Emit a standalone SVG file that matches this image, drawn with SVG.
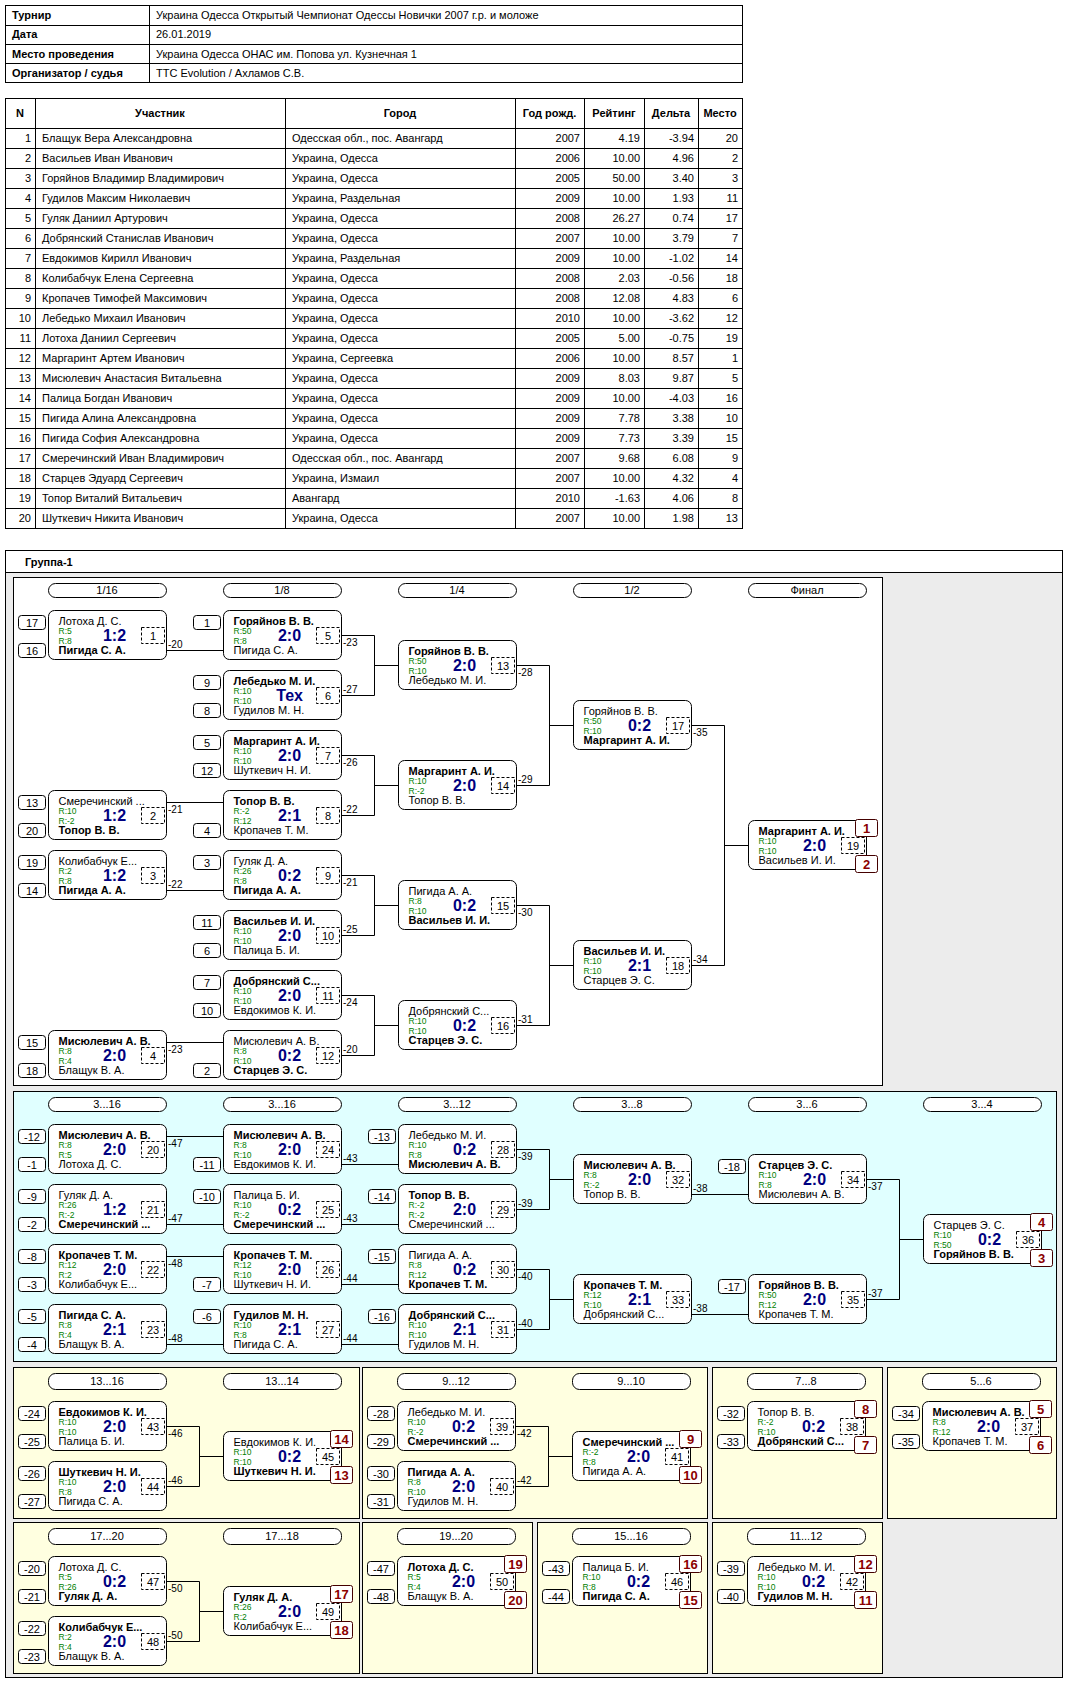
<svg xmlns="http://www.w3.org/2000/svg" width="1070" height="1685" viewBox="0 0 1070 1685">
<style>
text{font-family:"Liberation Sans",Arial,sans-serif;font-size:11px;fill:#000}
.b{font-weight:bold}
.e{text-anchor:end}
.m{text-anchor:middle}
.tl{fill:none;stroke:#000;stroke-width:1}
.mb{fill:#fff;stroke:#000;rx:6px}
.db{fill:none;stroke:#000;stroke-dasharray:3,2}
.sd{fill:#fff;stroke:#000;rx:3px}
.pl{fill:#fff;stroke:#400;rx:2px}
.pt{font-size:13px;font-weight:bold;fill:#8b0000;text-anchor:middle}
.r{font-size:8.5px;fill:#008000}
.s{font-size:16px;font-weight:bold;fill:#000080;text-anchor:middle}
.sn,.dn{text-anchor:middle}
.lb{font-size:10px}
.hd{fill:#fff;stroke:#000;rx:7px}
.c{fill:none;stroke:#000;stroke-width:1}
.y{text-anchor:end}
</style>
<rect width="1070" height="1685" fill="#fff"/>
<g id="info">
<rect class="tl" x="5.5" y="5.5" width="737" height="77"/>
<path class="tl" d="M149.5,5V82M5,25.5H742M5,44.5H742M5,63.5H742"/>
<text class="b" x="12" y="19">Турнир</text><text x="156" y="19">Украина Одесса Открытый Чемпионат Одессы Новички 2007 г.р. и моложе</text>
<text class="b" x="12" y="38">Дата</text><text x="156" y="38">26.01.2019</text>
<text class="b" x="12" y="58">Место проведения</text><text x="156" y="58">Украина Одесса ОНАС им. Попова ул. Кузнечная 1</text>
<text class="b" x="12" y="77">Организатор / судья</text><text x="156" y="77">TTC Evolution / Ахламов С.В.</text>
</g>
<g id="players">
<rect class="tl" x="5.5" y="98.5" width="737" height="430"/>
<path class="tl" d="M35.5,98V528M285.5,98V528M515.5,98V528M584.5,98V528M644.5,98V528M698.5,98V528M5,128.5H742M5,148.5H742M5,168.5H742M5,188.5H742M5,208.5H742M5,228.5H742M5,248.5H742M5,268.5H742M5,288.5H742M5,308.5H742M5,328.5H742M5,348.5H742M5,368.5H742M5,388.5H742M5,408.5H742M5,428.5H742M5,448.5H742M5,468.5H742M5,488.5H742M5,508.5H742"/>
<text class="m b" x="20" y="117">N</text><text class="m b" x="160" y="117">Участник</text><text class="m b" x="400" y="117">Город</text><text class="m b" x="549.5" y="117">Год рожд.</text><text class="m b" x="614" y="117">Рейтинг</text><text class="m b" x="671" y="117">Дельта</text><text class="m b" x="720" y="117">Место</text>
<g id="rows">
<text class="e" x="31" y="142">1</text><text x="42" y="142">Блащук Вера Александровна</text><text x="292" y="142">Одесская обл., пос. Авангард</text><text class="e" x="580" y="142">2007</text><text class="e" x="640" y="142">4.19</text><text class="e" x="694" y="142">-3.94</text><text class="e" x="738" y="142">20</text>
<text class="e" x="31" y="162">2</text><text x="42" y="162">Васильев Иван Иванович</text><text x="292" y="162">Украина, Одесса</text><text class="e" x="580" y="162">2006</text><text class="e" x="640" y="162">10.00</text><text class="e" x="694" y="162">4.96</text><text class="e" x="738" y="162">2</text>
<text class="e" x="31" y="182">3</text><text x="42" y="182">Горяйнов Владимир Владимирович</text><text x="292" y="182">Украина, Одесса</text><text class="e" x="580" y="182">2005</text><text class="e" x="640" y="182">50.00</text><text class="e" x="694" y="182">3.40</text><text class="e" x="738" y="182">3</text>
<text class="e" x="31" y="202">4</text><text x="42" y="202">Гудилов Максим Николаевич</text><text x="292" y="202">Украина, Раздельная</text><text class="e" x="580" y="202">2009</text><text class="e" x="640" y="202">10.00</text><text class="e" x="694" y="202">1.93</text><text class="e" x="738" y="202">11</text>
<text class="e" x="31" y="222">5</text><text x="42" y="222">Гуляк Даниил Артурович</text><text x="292" y="222">Украина, Одесса</text><text class="e" x="580" y="222">2008</text><text class="e" x="640" y="222">26.27</text><text class="e" x="694" y="222">0.74</text><text class="e" x="738" y="222">17</text>
<text class="e" x="31" y="242">6</text><text x="42" y="242">Добрянский Станислав Иванович</text><text x="292" y="242">Украина, Одесса</text><text class="e" x="580" y="242">2007</text><text class="e" x="640" y="242">10.00</text><text class="e" x="694" y="242">3.79</text><text class="e" x="738" y="242">7</text>
<text class="e" x="31" y="262">7</text><text x="42" y="262">Евдокимов Кирилл Иванович</text><text x="292" y="262">Украина, Раздельная</text><text class="e" x="580" y="262">2009</text><text class="e" x="640" y="262">10.00</text><text class="e" x="694" y="262">-1.02</text><text class="e" x="738" y="262">14</text>
<text class="e" x="31" y="282">8</text><text x="42" y="282">Колибабчук Елена Сергеевна</text><text x="292" y="282">Украина, Одесса</text><text class="e" x="580" y="282">2008</text><text class="e" x="640" y="282">2.03</text><text class="e" x="694" y="282">-0.56</text><text class="e" x="738" y="282">18</text>
<text class="e" x="31" y="302">9</text><text x="42" y="302">Кропачев Тимофей Максимович</text><text x="292" y="302">Украина, Одесса</text><text class="e" x="580" y="302">2008</text><text class="e" x="640" y="302">12.08</text><text class="e" x="694" y="302">4.83</text><text class="e" x="738" y="302">6</text>
<text class="e" x="31" y="322">10</text><text x="42" y="322">Лебедько Михаил Иванович</text><text x="292" y="322">Украина, Одесса</text><text class="e" x="580" y="322">2010</text><text class="e" x="640" y="322">10.00</text><text class="e" x="694" y="322">-3.62</text><text class="e" x="738" y="322">12</text>
<text class="e" x="31" y="342">11</text><text x="42" y="342">Лотоха Даниил Сергеевич</text><text x="292" y="342">Украина, Одесса</text><text class="e" x="580" y="342">2005</text><text class="e" x="640" y="342">5.00</text><text class="e" x="694" y="342">-0.75</text><text class="e" x="738" y="342">19</text>
<text class="e" x="31" y="362">12</text><text x="42" y="362">Маргаринт Артем Иванович</text><text x="292" y="362">Украина, Сергеевка</text><text class="e" x="580" y="362">2006</text><text class="e" x="640" y="362">10.00</text><text class="e" x="694" y="362">8.57</text><text class="e" x="738" y="362">1</text>
<text class="e" x="31" y="382">13</text><text x="42" y="382">Мисюлевич Анастасия Витальевна</text><text x="292" y="382">Украина, Одесса</text><text class="e" x="580" y="382">2009</text><text class="e" x="640" y="382">8.03</text><text class="e" x="694" y="382">9.87</text><text class="e" x="738" y="382">5</text>
<text class="e" x="31" y="402">14</text><text x="42" y="402">Палица Богдан Иванович</text><text x="292" y="402">Украина, Одесса</text><text class="e" x="580" y="402">2009</text><text class="e" x="640" y="402">10.00</text><text class="e" x="694" y="402">-4.03</text><text class="e" x="738" y="402">16</text>
<text class="e" x="31" y="422">15</text><text x="42" y="422">Пигида Алина Александровна</text><text x="292" y="422">Украина, Одесса</text><text class="e" x="580" y="422">2009</text><text class="e" x="640" y="422">7.78</text><text class="e" x="694" y="422">3.38</text><text class="e" x="738" y="422">10</text>
<text class="e" x="31" y="442">16</text><text x="42" y="442">Пигида София Александровна</text><text x="292" y="442">Украина, Одесса</text><text class="e" x="580" y="442">2009</text><text class="e" x="640" y="442">7.73</text><text class="e" x="694" y="442">3.39</text><text class="e" x="738" y="442">15</text>
<text class="e" x="31" y="462">17</text><text x="42" y="462">Смеречинский Иван Владимирович</text><text x="292" y="462">Одесская обл., пос. Авангард</text><text class="e" x="580" y="462">2007</text><text class="e" x="640" y="462">9.68</text><text class="e" x="694" y="462">6.08</text><text class="e" x="738" y="462">9</text>
<text class="e" x="31" y="482">18</text><text x="42" y="482">Старцев Эдуард Сергеевич</text><text x="292" y="482">Украина, Измаил</text><text class="e" x="580" y="482">2007</text><text class="e" x="640" y="482">10.00</text><text class="e" x="694" y="482">4.32</text><text class="e" x="738" y="482">4</text>
<text class="e" x="31" y="502">19</text><text x="42" y="502">Топор Виталий Витальевич</text><text x="292" y="502">Авангард</text><text class="e" x="580" y="502">2010</text><text class="e" x="640" y="502">-1.63</text><text class="e" x="694" y="502">4.06</text><text class="e" x="738" y="502">8</text>
<text class="e" x="31" y="522">20</text><text x="42" y="522">Шуткевич Никита Иванович</text><text x="292" y="522">Украина, Одесса</text><text class="e" x="580" y="522">2007</text><text class="e" x="640" y="522">10.00</text><text class="e" x="694" y="522">1.98</text><text class="e" x="738" y="522">13</text>
</g>
</g>
<g id="group">
<rect x="5.5" y="550.5" width="1057" height="1127" fill="#ececec" stroke="#000"/>
<rect x="5.5" y="550.5" width="1057" height="22" fill="#fff" stroke="#000"/>
<text class="b" x="25" y="566">Группа-1</text>
<rect x="13.5" y="577.5" width="869" height="508" fill="#fff" stroke="#000"/>
<rect x="13.5" y="1091.5" width="1043" height="270" fill="#e0ffff" stroke="#000"/>
<g fill="#ffffe0" stroke="#000">
<rect x="13.5" y="1367.5" width="346" height="151"/><rect x="362.5" y="1367.5" width="345" height="151"/><rect x="712.5" y="1367.5" width="170" height="151"/><rect x="887.5" y="1367.5" width="169" height="151"/>
<rect x="13.5" y="1522.5" width="346" height="151"/><rect x="362.5" y="1522.5" width="170" height="151"/><rect x="537.5" y="1522.5" width="170" height="151"/><rect x="712.5" y="1522.5" width="170" height="151"/>
</g>
</g>
<g id="headers">
<rect class="hd" x="48.5" y="583.5" width="118" height="14"/><text class="m" x="107" y="594">1/16</text>
<rect class="hd" x="223.5" y="583.5" width="118" height="14"/><text class="m" x="282" y="594">1/8</text>
<rect class="hd" x="398.5" y="583.5" width="118" height="14"/><text class="m" x="457" y="594">1/4</text>
<rect class="hd" x="573.5" y="583.5" width="118" height="14"/><text class="m" x="632" y="594">1/2</text>
<rect class="hd" x="748.5" y="583.5" width="118" height="14"/><text class="m" x="807" y="594">Финал</text>
<rect class="hd" x="48.5" y="1097.5" width="118" height="14"/><text class="m" x="107" y="1108">3...16</text>
<rect class="hd" x="223.5" y="1097.5" width="118" height="14"/><text class="m" x="282" y="1108">3...16</text>
<rect class="hd" x="398.5" y="1097.5" width="118" height="14"/><text class="m" x="457" y="1108">3...12</text>
<rect class="hd" x="573.5" y="1097.5" width="118" height="14"/><text class="m" x="632" y="1108">3...8</text>
<rect class="hd" x="748.5" y="1097.5" width="118" height="14"/><text class="m" x="807" y="1108">3...6</text>
<rect class="hd" x="923.5" y="1097.5" width="118" height="14"/><text class="m" x="982" y="1108">3...4</text>
<rect class="hd" x="48.5" y="1373.5" width="118" height="16"/><text class="m" x="107" y="1385">13...16</text>
<rect class="hd" x="223.5" y="1373.5" width="118" height="16"/><text class="m" x="282" y="1385">13...14</text>
<rect class="hd" x="397.5" y="1373.5" width="118" height="16"/><text class="m" x="456" y="1385">9...12</text>
<rect class="hd" x="572.5" y="1373.5" width="118" height="16"/><text class="m" x="631" y="1385">9...10</text>
<rect class="hd" x="747.5" y="1373.5" width="118" height="16"/><text class="m" x="806" y="1385">7...8</text>
<rect class="hd" x="922.5" y="1373.5" width="118" height="16"/><text class="m" x="981" y="1385">5...6</text>
<rect class="hd" x="48.5" y="1528.5" width="118" height="16"/><text class="m" x="107" y="1540">17...20</text>
<rect class="hd" x="223.5" y="1528.5" width="118" height="16"/><text class="m" x="282" y="1540">17...18</text>
<rect class="hd" x="397.5" y="1528.5" width="118" height="16"/><text class="m" x="456" y="1540">19...20</text>
<rect class="hd" x="572.5" y="1528.5" width="118" height="16"/><text class="m" x="631" y="1540">15...16</text>
<rect class="hd" x="747.5" y="1528.5" width="118" height="16"/><text class="m" x="806" y="1540">11...12</text>
</g>
<g id="connectors">
<path class="c" d="M166,650.5H223M166,802.5H223M166,890.5H223M166,1042.5H223
M341,635.5H374.5V695.5H341M374,665.5H398M341,755.5H374.5V815.5H341M374,785.5H398M341,875.5H374.5V935.5H341M374,905.5H398M341,995.5H374.5V1055.5H341M374,1025.5H398
M516,665.5H549.5V785.5H516M549,725.5H573M516,905.5H549.5V1025.5H516M549,965.5H573
M691,725.5H724.5V965.5H691M724,845.5H748
M166,1136.5H223M166,1224.5H223M166,1256.5H223M166,1344.5H223
M341,1164.5H398M341,1224.5H398M341,1284.5H398M341,1344.5H398
M516,1149.5H549.5V1209.5H516M549,1179.5H573M516,1269.5H549.5V1329.5H516M549,1299.5H573
M691,1194.5H748M691,1314.5H748
M866,1179.5H899.5V1299.5H866M899,1239.5H923
M166,1426.5H199.5V1486.5H166M199,1456.5H223
M515,1426.5H548.5V1486.5H515M548,1456.5H572
M166,1581.5H199.5V1641.5H166M199,1611.5H223"/>
<text class="lb" x="168" y="648">-20</text><text class="lb" x="168" y="813">-21</text><text class="lb" x="168" y="888">-22</text><text class="lb" x="168" y="1053">-23</text>
<text class="lb" x="343" y="646">-23</text><text class="lb" x="343" y="693">-27</text><text class="lb" x="343" y="766">-26</text><text class="lb" x="343" y="813">-22</text><text class="lb" x="343" y="886">-21</text><text class="lb" x="343" y="933">-25</text><text class="lb" x="343" y="1006">-24</text><text class="lb" x="343" y="1053">-20</text>
<text class="lb" x="518" y="676">-28</text><text class="lb" x="518" y="783">-29</text><text class="lb" x="518" y="916">-30</text><text class="lb" x="518" y="1023">-31</text>
<text class="lb" x="693" y="736">-35</text><text class="lb" x="693" y="963">-34</text>
<text class="lb" x="168" y="1147">-47</text><text class="lb" x="168" y="1222">-47</text><text class="lb" x="168" y="1267">-48</text><text class="lb" x="168" y="1342">-48</text>
<text class="lb" x="343" y="1162">-43</text><text class="lb" x="343" y="1222">-43</text><text class="lb" x="343" y="1282">-44</text><text class="lb" x="343" y="1342">-44</text>
<text class="lb" x="518" y="1160">-39</text><text class="lb" x="518" y="1207">-39</text><text class="lb" x="518" y="1280">-40</text><text class="lb" x="518" y="1327">-40</text>
<text class="lb" x="693" y="1192">-38</text><text class="lb" x="693" y="1312">-38</text>
<text class="lb" x="868" y="1190">-37</text><text class="lb" x="868" y="1297">-37</text>
<text class="lb" x="168" y="1437">-46</text><text class="lb" x="168" y="1484">-46</text>
<text class="lb" x="517" y="1437">-42</text><text class="lb" x="517" y="1484">-42</text>
<text class="lb" x="168" y="1592">-50</text><text class="lb" x="168" y="1639">-50</text>
</g>

<g id="m1" transform="translate(48.5,610.5)"><rect class="sd" x="-30" y="5" width="27" height="14"/><text class="sn" x="-16.5" y="16">17</text><rect class="sd" x="-30" y="33" width="27" height="14"/><text class="sn" x="-16.5" y="44">16</text><rect class="mb" width="118" height="49"/><text x="10" y="14">Лотоха Д. С.</text><text class="r" x="10" y="23">R:5</text><text class="r" x="10" y="33">R:8</text><text class="s" x="66" y="30">1:2</text><rect class="db" x="93" y="17" width="23" height="16"/><text class="dn" x="104.5" y="29">1</text><text class="b" x="10" y="43">Пигида С. А.</text></g>
<g id="m2" transform="translate(48.5,790.5)"><rect class="sd" x="-30" y="5" width="27" height="14"/><text class="sn" x="-16.5" y="16">13</text><rect class="sd" x="-30" y="33" width="27" height="14"/><text class="sn" x="-16.5" y="44">20</text><rect class="mb" width="118" height="49"/><text x="10" y="14">Смеречинский ...</text><text class="r" x="10" y="23">R:10</text><text class="r" x="10" y="33">R:-2</text><text class="s" x="66" y="30">1:2</text><rect class="db" x="93" y="17" width="23" height="16"/><text class="dn" x="104.5" y="29">2</text><text class="b" x="10" y="43">Топор В. В.</text></g>
<g id="m3" transform="translate(48.5,850.5)"><rect class="sd" x="-30" y="5" width="27" height="14"/><text class="sn" x="-16.5" y="16">19</text><rect class="sd" x="-30" y="33" width="27" height="14"/><text class="sn" x="-16.5" y="44">14</text><rect class="mb" width="118" height="49"/><text x="10" y="14">Колибабчук Е...</text><text class="r" x="10" y="23">R:2</text><text class="r" x="10" y="33">R:8</text><text class="s" x="66" y="30">1:2</text><rect class="db" x="93" y="17" width="23" height="16"/><text class="dn" x="104.5" y="29">3</text><text class="b" x="10" y="43">Пигида А. А.</text></g>
<g id="m4" transform="translate(48.5,1030.5)"><rect class="sd" x="-30" y="5" width="27" height="14"/><text class="sn" x="-16.5" y="16">15</text><rect class="sd" x="-30" y="33" width="27" height="14"/><text class="sn" x="-16.5" y="44">18</text><rect class="mb" width="118" height="49"/><text class="b" x="10" y="14">Мисюлевич А. В.</text><text class="r" x="10" y="23">R:8</text><text class="r" x="10" y="33">R:4</text><text class="s" x="66" y="30">2:0</text><rect class="db" x="93" y="17" width="23" height="16"/><text class="dn" x="104.5" y="29">4</text><text x="10" y="43">Блащук В. А.</text></g>
<g id="m5" transform="translate(223.5,610.5)"><rect class="sd" x="-30" y="5" width="27" height="14"/><text class="sn" x="-16.5" y="16">1</text><rect class="mb" width="118" height="49"/><text class="b" x="10" y="14">Горяйнов В. В.</text><text class="r" x="10" y="23">R:50</text><text class="r" x="10" y="33">R:8</text><text class="s" x="66" y="30">2:0</text><rect class="db" x="93" y="17" width="23" height="16"/><text class="dn" x="104.5" y="29">5</text><text x="10" y="43">Пигида С. А.</text></g>
<g id="m6" transform="translate(223.5,670.5)"><rect class="sd" x="-30" y="5" width="27" height="14"/><text class="sn" x="-16.5" y="16">9</text><rect class="sd" x="-30" y="33" width="27" height="14"/><text class="sn" x="-16.5" y="44">8</text><rect class="mb" width="118" height="49"/><text class="b" x="10" y="14">Лебедько М. И.</text><text class="r" x="10" y="23">R:10</text><text class="r" x="10" y="33">R:10</text><text class="s" x="66" y="30">Тех</text><rect class="db" x="93" y="17" width="23" height="16"/><text class="dn" x="104.5" y="29">6</text><text x="10" y="43">Гудилов М. Н.</text></g>
<g id="m7" transform="translate(223.5,730.5)"><rect class="sd" x="-30" y="5" width="27" height="14"/><text class="sn" x="-16.5" y="16">5</text><rect class="sd" x="-30" y="33" width="27" height="14"/><text class="sn" x="-16.5" y="44">12</text><rect class="mb" width="118" height="49"/><text class="b" x="10" y="14">Маргаринт А. И.</text><text class="r" x="10" y="23">R:10</text><text class="r" x="10" y="33">R:10</text><text class="s" x="66" y="30">2:0</text><rect class="db" x="93" y="17" width="23" height="16"/><text class="dn" x="104.5" y="29">7</text><text x="10" y="43">Шуткевич Н. И.</text></g>
<g id="m8" transform="translate(223.5,790.5)"><rect class="sd" x="-30" y="33" width="27" height="14"/><text class="sn" x="-16.5" y="44">4</text><rect class="mb" width="118" height="49"/><text class="b" x="10" y="14">Топор В. В.</text><text class="r" x="10" y="23">R:-2</text><text class="r" x="10" y="33">R:12</text><text class="s" x="66" y="30">2:1</text><rect class="db" x="93" y="17" width="23" height="16"/><text class="dn" x="104.5" y="29">8</text><text x="10" y="43">Кропачев Т. М.</text></g>
<g id="m9" transform="translate(223.5,850.5)"><rect class="sd" x="-30" y="5" width="27" height="14"/><text class="sn" x="-16.5" y="16">3</text><rect class="mb" width="118" height="49"/><text x="10" y="14">Гуляк Д. А.</text><text class="r" x="10" y="23">R:26</text><text class="r" x="10" y="33">R:8</text><text class="s" x="66" y="30">0:2</text><rect class="db" x="93" y="17" width="23" height="16"/><text class="dn" x="104.5" y="29">9</text><text class="b" x="10" y="43">Пигида А. А.</text></g>
<g id="m10" transform="translate(223.5,910.5)"><rect class="sd" x="-30" y="5" width="27" height="14"/><text class="sn" x="-16.5" y="16">11</text><rect class="sd" x="-30" y="33" width="27" height="14"/><text class="sn" x="-16.5" y="44">6</text><rect class="mb" width="118" height="49"/><text class="b" x="10" y="14">Васильев И. И.</text><text class="r" x="10" y="23">R:10</text><text class="r" x="10" y="33">R:10</text><text class="s" x="66" y="30">2:0</text><rect class="db" x="93" y="17" width="23" height="16"/><text class="dn" x="104.5" y="29">10</text><text x="10" y="43">Палица Б. И.</text></g>
<g id="m11" transform="translate(223.5,970.5)"><rect class="sd" x="-30" y="5" width="27" height="14"/><text class="sn" x="-16.5" y="16">7</text><rect class="sd" x="-30" y="33" width="27" height="14"/><text class="sn" x="-16.5" y="44">10</text><rect class="mb" width="118" height="49"/><text class="b" x="10" y="14">Добрянский С...</text><text class="r" x="10" y="23">R:10</text><text class="r" x="10" y="33">R:10</text><text class="s" x="66" y="30">2:0</text><rect class="db" x="93" y="17" width="23" height="16"/><text class="dn" x="104.5" y="29">11</text><text x="10" y="43">Евдокимов К. И.</text></g>
<g id="m12" transform="translate(223.5,1030.5)"><rect class="sd" x="-30" y="33" width="27" height="14"/><text class="sn" x="-16.5" y="44">2</text><rect class="mb" width="118" height="49"/><text x="10" y="14">Мисюлевич А. В.</text><text class="r" x="10" y="23">R:8</text><text class="r" x="10" y="33">R:10</text><text class="s" x="66" y="30">0:2</text><rect class="db" x="93" y="17" width="23" height="16"/><text class="dn" x="104.5" y="29">12</text><text class="b" x="10" y="43">Старцев Э. С.</text></g>
<g id="m13" transform="translate(398.5,640.5)"><rect class="mb" width="118" height="49"/><text class="b" x="10" y="14">Горяйнов В. В.</text><text class="r" x="10" y="23">R:50</text><text class="r" x="10" y="33">R:10</text><text class="s" x="66" y="30">2:0</text><rect class="db" x="93" y="17" width="23" height="16"/><text class="dn" x="104.5" y="29">13</text><text x="10" y="43">Лебедько М. И.</text></g>
<g id="m14" transform="translate(398.5,760.5)"><rect class="mb" width="118" height="49"/><text class="b" x="10" y="14">Маргаринт А. И.</text><text class="r" x="10" y="23">R:10</text><text class="r" x="10" y="33">R:-2</text><text class="s" x="66" y="30">2:0</text><rect class="db" x="93" y="17" width="23" height="16"/><text class="dn" x="104.5" y="29">14</text><text x="10" y="43">Топор В. В.</text></g>
<g id="m15" transform="translate(398.5,880.5)"><rect class="mb" width="118" height="49"/><text x="10" y="14">Пигида А. А.</text><text class="r" x="10" y="23">R:8</text><text class="r" x="10" y="33">R:10</text><text class="s" x="66" y="30">0:2</text><rect class="db" x="93" y="17" width="23" height="16"/><text class="dn" x="104.5" y="29">15</text><text class="b" x="10" y="43">Васильев И. И.</text></g>
<g id="m16" transform="translate(398.5,1000.5)"><rect class="mb" width="118" height="49"/><text x="10" y="14">Добрянский С...</text><text class="r" x="10" y="23">R:10</text><text class="r" x="10" y="33">R:10</text><text class="s" x="66" y="30">0:2</text><rect class="db" x="93" y="17" width="23" height="16"/><text class="dn" x="104.5" y="29">16</text><text class="b" x="10" y="43">Старцев Э. С.</text></g>
<g id="m17" transform="translate(573.5,700.5)"><rect class="mb" width="118" height="49"/><text x="10" y="14">Горяйнов В. В.</text><text class="r" x="10" y="23">R:50</text><text class="r" x="10" y="33">R:10</text><text class="s" x="66" y="30">0:2</text><rect class="db" x="93" y="17" width="23" height="16"/><text class="dn" x="104.5" y="29">17</text><text class="b" x="10" y="43">Маргаринт А. И.</text></g>
<g id="m18" transform="translate(573.5,940.5)"><rect class="mb" width="118" height="49"/><text class="b" x="10" y="14">Васильев И. И.</text><text class="r" x="10" y="23">R:10</text><text class="r" x="10" y="33">R:10</text><text class="s" x="66" y="30">2:1</text><rect class="db" x="93" y="17" width="23" height="16"/><text class="dn" x="104.5" y="29">18</text><text x="10" y="43">Старцев Э. С.</text></g>
<g id="m19" transform="translate(748.5,820.5)"><rect class="mb" width="118" height="49"/><text class="b" x="10" y="14">Маргаринт А. И.</text><text class="r" x="10" y="23">R:10</text><text class="r" x="10" y="33">R:10</text><text class="s" x="66" y="30">2:0</text><rect class="db" x="93" y="17" width="23" height="16"/><text class="dn" x="104.5" y="29">19</text><text x="10" y="43">Васильев И. И.</text><rect class="pl" x="107" y="-1" width="22" height="17"/><text class="pt" x="118" y="12">1</text><rect class="pl" x="107" y="35" width="22" height="17"/><text class="pt" x="118" y="48">2</text></g>

<g id="m20" transform="translate(48.5,1124.5)"><rect class="sd" x="-30" y="5" width="27" height="14"/><text class="sn" x="-16.5" y="16">-12</text><rect class="sd" x="-30" y="33" width="27" height="14"/><text class="sn" x="-16.5" y="44">-1</text><rect class="mb" width="118" height="49"/><text class="b" x="10" y="14">Мисюлевич А. В.</text><text class="r" x="10" y="23">R:8</text><text class="r" x="10" y="33">R:5</text><text class="s" x="66" y="30">2:0</text><rect class="db" x="93" y="17" width="23" height="16"/><text class="dn" x="104.5" y="29">20</text><text x="10" y="43">Лотоха Д. С.</text></g>
<g id="m21" transform="translate(48.5,1184.5)"><rect class="sd" x="-30" y="5" width="27" height="14"/><text class="sn" x="-16.5" y="16">-9</text><rect class="sd" x="-30" y="33" width="27" height="14"/><text class="sn" x="-16.5" y="44">-2</text><rect class="mb" width="118" height="49"/><text x="10" y="14">Гуляк Д. А.</text><text class="r" x="10" y="23">R:26</text><text class="r" x="10" y="33">R:-2</text><text class="s" x="66" y="30">1:2</text><rect class="db" x="93" y="17" width="23" height="16"/><text class="dn" x="104.5" y="29">21</text><text class="b" x="10" y="43">Смеречинский ...</text></g>
<g id="m22" transform="translate(48.5,1244.5)"><rect class="sd" x="-30" y="5" width="27" height="14"/><text class="sn" x="-16.5" y="16">-8</text><rect class="sd" x="-30" y="33" width="27" height="14"/><text class="sn" x="-16.5" y="44">-3</text><rect class="mb" width="118" height="49"/><text class="b" x="10" y="14">Кропачев Т. М.</text><text class="r" x="10" y="23">R:12</text><text class="r" x="10" y="33">R:2</text><text class="s" x="66" y="30">2:0</text><rect class="db" x="93" y="17" width="23" height="16"/><text class="dn" x="104.5" y="29">22</text><text x="10" y="43">Колибабчук Е...</text></g>
<g id="m23" transform="translate(48.5,1304.5)"><rect class="sd" x="-30" y="5" width="27" height="14"/><text class="sn" x="-16.5" y="16">-5</text><rect class="sd" x="-30" y="33" width="27" height="14"/><text class="sn" x="-16.5" y="44">-4</text><rect class="mb" width="118" height="49"/><text class="b" x="10" y="14">Пигида С. А.</text><text class="r" x="10" y="23">R:8</text><text class="r" x="10" y="33">R:4</text><text class="s" x="66" y="30">2:1</text><rect class="db" x="93" y="17" width="23" height="16"/><text class="dn" x="104.5" y="29">23</text><text x="10" y="43">Блащук В. А.</text></g>
<g id="m24" transform="translate(223.5,1124.5)"><rect class="sd" x="-30" y="33" width="27" height="14"/><text class="sn" x="-16.5" y="44">-11</text><rect class="mb" width="118" height="49"/><text class="b" x="10" y="14">Мисюлевич А. В.</text><text class="r" x="10" y="23">R:8</text><text class="r" x="10" y="33">R:10</text><text class="s" x="66" y="30">2:0</text><rect class="db" x="93" y="17" width="23" height="16"/><text class="dn" x="104.5" y="29">24</text><text x="10" y="43">Евдокимов К. И.</text></g>
<g id="m25" transform="translate(223.5,1184.5)"><rect class="sd" x="-30" y="5" width="27" height="14"/><text class="sn" x="-16.5" y="16">-10</text><rect class="mb" width="118" height="49"/><text x="10" y="14">Палица Б. И.</text><text class="r" x="10" y="23">R:10</text><text class="r" x="10" y="33">R:-2</text><text class="s" x="66" y="30">0:2</text><rect class="db" x="93" y="17" width="23" height="16"/><text class="dn" x="104.5" y="29">25</text><text class="b" x="10" y="43">Смеречинский ...</text></g>
<g id="m26" transform="translate(223.5,1244.5)"><rect class="sd" x="-30" y="33" width="27" height="14"/><text class="sn" x="-16.5" y="44">-7</text><rect class="mb" width="118" height="49"/><text class="b" x="10" y="14">Кропачев Т. М.</text><text class="r" x="10" y="23">R:12</text><text class="r" x="10" y="33">R:10</text><text class="s" x="66" y="30">2:0</text><rect class="db" x="93" y="17" width="23" height="16"/><text class="dn" x="104.5" y="29">26</text><text x="10" y="43">Шуткевич Н. И.</text></g>
<g id="m27" transform="translate(223.5,1304.5)"><rect class="sd" x="-30" y="5" width="27" height="14"/><text class="sn" x="-16.5" y="16">-6</text><rect class="mb" width="118" height="49"/><text class="b" x="10" y="14">Гудилов М. Н.</text><text class="r" x="10" y="23">R:10</text><text class="r" x="10" y="33">R:8</text><text class="s" x="66" y="30">2:1</text><rect class="db" x="93" y="17" width="23" height="16"/><text class="dn" x="104.5" y="29">27</text><text x="10" y="43">Пигида С. А.</text></g>
<g id="m28" transform="translate(398.5,1124.5)"><rect class="sd" x="-30" y="5" width="27" height="14"/><text class="sn" x="-16.5" y="16">-13</text><rect class="mb" width="118" height="49"/><text x="10" y="14">Лебедько М. И.</text><text class="r" x="10" y="23">R:10</text><text class="r" x="10" y="33">R:8</text><text class="s" x="66" y="30">0:2</text><rect class="db" x="93" y="17" width="23" height="16"/><text class="dn" x="104.5" y="29">28</text><text class="b" x="10" y="43">Мисюлевич А. В.</text></g>
<g id="m29" transform="translate(398.5,1184.5)"><rect class="sd" x="-30" y="5" width="27" height="14"/><text class="sn" x="-16.5" y="16">-14</text><rect class="mb" width="118" height="49"/><text class="b" x="10" y="14">Топор В. В.</text><text class="r" x="10" y="23">R:-2</text><text class="r" x="10" y="33">R:-2</text><text class="s" x="66" y="30">2:0</text><rect class="db" x="93" y="17" width="23" height="16"/><text class="dn" x="104.5" y="29">29</text><text x="10" y="43">Смеречинский ...</text></g>
<g id="m30" transform="translate(398.5,1244.5)"><rect class="sd" x="-30" y="5" width="27" height="14"/><text class="sn" x="-16.5" y="16">-15</text><rect class="mb" width="118" height="49"/><text x="10" y="14">Пигида А. А.</text><text class="r" x="10" y="23">R:8</text><text class="r" x="10" y="33">R:12</text><text class="s" x="66" y="30">0:2</text><rect class="db" x="93" y="17" width="23" height="16"/><text class="dn" x="104.5" y="29">30</text><text class="b" x="10" y="43">Кропачев Т. М.</text></g>
<g id="m31" transform="translate(398.5,1304.5)"><rect class="sd" x="-30" y="5" width="27" height="14"/><text class="sn" x="-16.5" y="16">-16</text><rect class="mb" width="118" height="49"/><text class="b" x="10" y="14">Добрянский С...</text><text class="r" x="10" y="23">R:10</text><text class="r" x="10" y="33">R:10</text><text class="s" x="66" y="30">2:1</text><rect class="db" x="93" y="17" width="23" height="16"/><text class="dn" x="104.5" y="29">31</text><text x="10" y="43">Гудилов М. Н.</text></g>
<g id="m32" transform="translate(573.5,1154.5)"><rect class="mb" width="118" height="49"/><text class="b" x="10" y="14">Мисюлевич А. В.</text><text class="r" x="10" y="23">R:8</text><text class="r" x="10" y="33">R:-2</text><text class="s" x="66" y="30">2:0</text><rect class="db" x="93" y="17" width="23" height="16"/><text class="dn" x="104.5" y="29">32</text><text x="10" y="43">Топор В. В.</text></g>
<g id="m33" transform="translate(573.5,1274.5)"><rect class="mb" width="118" height="49"/><text class="b" x="10" y="14">Кропачев Т. М.</text><text class="r" x="10" y="23">R:12</text><text class="r" x="10" y="33">R:10</text><text class="s" x="66" y="30">2:1</text><rect class="db" x="93" y="17" width="23" height="16"/><text class="dn" x="104.5" y="29">33</text><text x="10" y="43">Добрянский С...</text></g>
<g id="m34" transform="translate(748.5,1154.5)"><rect class="sd" x="-30" y="5" width="27" height="14"/><text class="sn" x="-16.5" y="16">-18</text><rect class="mb" width="118" height="49"/><text class="b" x="10" y="14">Старцев Э. С.</text><text class="r" x="10" y="23">R:10</text><text class="r" x="10" y="33">R:8</text><text class="s" x="66" y="30">2:0</text><rect class="db" x="93" y="17" width="23" height="16"/><text class="dn" x="104.5" y="29">34</text><text x="10" y="43">Мисюлевич А. В.</text></g>
<g id="m35" transform="translate(748.5,1274.5)"><rect class="sd" x="-30" y="5" width="27" height="14"/><text class="sn" x="-16.5" y="16">-17</text><rect class="mb" width="118" height="49"/><text class="b" x="10" y="14">Горяйнов В. В.</text><text class="r" x="10" y="23">R:50</text><text class="r" x="10" y="33">R:12</text><text class="s" x="66" y="30">2:0</text><rect class="db" x="93" y="17" width="23" height="16"/><text class="dn" x="104.5" y="29">35</text><text x="10" y="43">Кропачев Т. М.</text></g>
<g id="m36" transform="translate(923.5,1214.5)"><rect class="mb" width="118" height="49"/><text x="10" y="14">Старцев Э. С.</text><text class="r" x="10" y="23">R:10</text><text class="r" x="10" y="33">R:50</text><text class="s" x="66" y="30">0:2</text><rect class="db" x="93" y="17" width="23" height="16"/><text class="dn" x="104.5" y="29">36</text><text class="b" x="10" y="43">Горяйнов В. В.</text><rect class="pl" x="107" y="-1" width="22" height="17"/><text class="pt" x="118" y="12">4</text><rect class="pl" x="107" y="35" width="22" height="17"/><text class="pt" x="118" y="48">3</text></g>

<g id="m43" transform="translate(48.5,1401.5)"><rect class="sd" x="-30" y="5" width="27" height="14"/><text class="sn" x="-16.5" y="16">-24</text><rect class="sd" x="-30" y="33" width="27" height="14"/><text class="sn" x="-16.5" y="44">-25</text><rect class="mb" width="118" height="49"/><text class="b" x="10" y="14">Евдокимов К. И.</text><text class="r" x="10" y="23">R:10</text><text class="r" x="10" y="33">R:10</text><text class="s" x="66" y="30">2:0</text><rect class="db" x="93" y="17" width="23" height="16"/><text class="dn" x="104.5" y="29">43</text><text x="10" y="43">Палица Б. И.</text></g>
<g id="m44" transform="translate(48.5,1461.5)"><rect class="sd" x="-30" y="5" width="27" height="14"/><text class="sn" x="-16.5" y="16">-26</text><rect class="sd" x="-30" y="33" width="27" height="14"/><text class="sn" x="-16.5" y="44">-27</text><rect class="mb" width="118" height="49"/><text class="b" x="10" y="14">Шуткевич Н. И.</text><text class="r" x="10" y="23">R:10</text><text class="r" x="10" y="33">R:8</text><text class="s" x="66" y="30">2:0</text><rect class="db" x="93" y="17" width="23" height="16"/><text class="dn" x="104.5" y="29">44</text><text x="10" y="43">Пигида С. А.</text></g>
<g id="m45" transform="translate(223.5,1431.5)"><rect class="mb" width="118" height="49"/><text x="10" y="14">Евдокимов К. И.</text><text class="r" x="10" y="23">R:10</text><text class="r" x="10" y="33">R:10</text><text class="s" x="66" y="30">0:2</text><rect class="db" x="93" y="17" width="23" height="16"/><text class="dn" x="104.5" y="29">45</text><text class="b" x="10" y="43">Шуткевич Н. И.</text><rect class="pl" x="107" y="-1" width="22" height="17"/><text class="pt" x="118" y="12">14</text><rect class="pl" x="107" y="35" width="22" height="17"/><text class="pt" x="118" y="48">13</text></g>
<g id="m39" transform="translate(397.5,1401.5)"><rect class="sd" x="-30" y="5" width="27" height="14"/><text class="sn" x="-16.5" y="16">-28</text><rect class="sd" x="-30" y="33" width="27" height="14"/><text class="sn" x="-16.5" y="44">-29</text><rect class="mb" width="118" height="49"/><text x="10" y="14">Лебедько М. И.</text><text class="r" x="10" y="23">R:10</text><text class="r" x="10" y="33">R:-2</text><text class="s" x="66" y="30">0:2</text><rect class="db" x="93" y="17" width="23" height="16"/><text class="dn" x="104.5" y="29">39</text><text class="b" x="10" y="43">Смеречинский ...</text></g>
<g id="m40" transform="translate(397.5,1461.5)"><rect class="sd" x="-30" y="5" width="27" height="14"/><text class="sn" x="-16.5" y="16">-30</text><rect class="sd" x="-30" y="33" width="27" height="14"/><text class="sn" x="-16.5" y="44">-31</text><rect class="mb" width="118" height="49"/><text class="b" x="10" y="14">Пигида А. А.</text><text class="r" x="10" y="23">R:8</text><text class="r" x="10" y="33">R:10</text><text class="s" x="66" y="30">2:0</text><rect class="db" x="93" y="17" width="23" height="16"/><text class="dn" x="104.5" y="29">40</text><text x="10" y="43">Гудилов М. Н.</text></g>
<g id="m41" transform="translate(572.5,1431.5)"><rect class="mb" width="118" height="49"/><text class="b" x="10" y="14">Смеречинский ...</text><text class="r" x="10" y="23">R:-2</text><text class="r" x="10" y="33">R:8</text><text class="s" x="66" y="30">2:0</text><rect class="db" x="93" y="17" width="23" height="16"/><text class="dn" x="104.5" y="29">41</text><text x="10" y="43">Пигида А. А.</text><rect class="pl" x="107" y="-1" width="22" height="17"/><text class="pt" x="118" y="12">9</text><rect class="pl" x="107" y="35" width="22" height="17"/><text class="pt" x="118" y="48">10</text></g>
<g id="m38" transform="translate(747.5,1401.5)"><rect class="sd" x="-30" y="5" width="27" height="14"/><text class="sn" x="-16.5" y="16">-32</text><rect class="sd" x="-30" y="33" width="27" height="14"/><text class="sn" x="-16.5" y="44">-33</text><rect class="mb" width="118" height="49"/><text x="10" y="14">Топор В. В.</text><text class="r" x="10" y="23">R:-2</text><text class="r" x="10" y="33">R:10</text><text class="s" x="66" y="30">0:2</text><rect class="db" x="93" y="17" width="23" height="16"/><text class="dn" x="104.5" y="29">38</text><text class="b" x="10" y="43">Добрянский С...</text><rect class="pl" x="107" y="-1" width="22" height="17"/><text class="pt" x="118" y="12">8</text><rect class="pl" x="107" y="35" width="22" height="17"/><text class="pt" x="118" y="48">7</text></g>
<g id="m37" transform="translate(922.5,1401.5)"><rect class="sd" x="-30" y="5" width="27" height="14"/><text class="sn" x="-16.5" y="16">-34</text><rect class="sd" x="-30" y="33" width="27" height="14"/><text class="sn" x="-16.5" y="44">-35</text><rect class="mb" width="118" height="49"/><text class="b" x="10" y="14">Мисюлевич А. В.</text><text class="r" x="10" y="23">R:8</text><text class="r" x="10" y="33">R:12</text><text class="s" x="66" y="30">2:0</text><rect class="db" x="93" y="17" width="23" height="16"/><text class="dn" x="104.5" y="29">37</text><text x="10" y="43">Кропачев Т. М.</text><rect class="pl" x="107" y="-1" width="22" height="17"/><text class="pt" x="118" y="12">5</text><rect class="pl" x="107" y="35" width="22" height="17"/><text class="pt" x="118" y="48">6</text></g>

<g id="m47" transform="translate(48.5,1556.5)"><rect class="sd" x="-30" y="5" width="27" height="14"/><text class="sn" x="-16.5" y="16">-20</text><rect class="sd" x="-30" y="33" width="27" height="14"/><text class="sn" x="-16.5" y="44">-21</text><rect class="mb" width="118" height="49"/><text x="10" y="14">Лотоха Д. С.</text><text class="r" x="10" y="23">R:5</text><text class="r" x="10" y="33">R:26</text><text class="s" x="66" y="30">0:2</text><rect class="db" x="93" y="17" width="23" height="16"/><text class="dn" x="104.5" y="29">47</text><text class="b" x="10" y="43">Гуляк Д. А.</text></g>
<g id="m48" transform="translate(48.5,1616.5)"><rect class="sd" x="-30" y="5" width="27" height="14"/><text class="sn" x="-16.5" y="16">-22</text><rect class="sd" x="-30" y="33" width="27" height="14"/><text class="sn" x="-16.5" y="44">-23</text><rect class="mb" width="118" height="49"/><text class="b" x="10" y="14">Колибабчук Е...</text><text class="r" x="10" y="23">R:2</text><text class="r" x="10" y="33">R:4</text><text class="s" x="66" y="30">2:0</text><rect class="db" x="93" y="17" width="23" height="16"/><text class="dn" x="104.5" y="29">48</text><text x="10" y="43">Блащук В. А.</text></g>
<g id="m49" transform="translate(223.5,1586.5)"><rect class="mb" width="118" height="49"/><text class="b" x="10" y="14">Гуляк Д. А.</text><text class="r" x="10" y="23">R:26</text><text class="r" x="10" y="33">R:2</text><text class="s" x="66" y="30">2:0</text><rect class="db" x="93" y="17" width="23" height="16"/><text class="dn" x="104.5" y="29">49</text><text x="10" y="43">Колибабчук Е...</text><rect class="pl" x="107" y="-1" width="22" height="17"/><text class="pt" x="118" y="12">17</text><rect class="pl" x="107" y="35" width="22" height="17"/><text class="pt" x="118" y="48">18</text></g>
<g id="m50" transform="translate(397.5,1556.5)"><rect class="sd" x="-30" y="5" width="27" height="14"/><text class="sn" x="-16.5" y="16">-47</text><rect class="sd" x="-30" y="33" width="27" height="14"/><text class="sn" x="-16.5" y="44">-48</text><rect class="mb" width="118" height="49"/><text class="b" x="10" y="14">Лотоха Д. С.</text><text class="r" x="10" y="23">R:5</text><text class="r" x="10" y="33">R:4</text><text class="s" x="66" y="30">2:0</text><rect class="db" x="93" y="17" width="23" height="16"/><text class="dn" x="104.5" y="29">50</text><text x="10" y="43">Блащук В. А.</text><rect class="pl" x="107" y="-1" width="22" height="17"/><text class="pt" x="118" y="12">19</text><rect class="pl" x="107" y="35" width="22" height="17"/><text class="pt" x="118" y="48">20</text></g>
<g id="m46" transform="translate(572.5,1556.5)"><rect class="sd" x="-30" y="5" width="27" height="14"/><text class="sn" x="-16.5" y="16">-43</text><rect class="sd" x="-30" y="33" width="27" height="14"/><text class="sn" x="-16.5" y="44">-44</text><rect class="mb" width="118" height="49"/><text x="10" y="14">Палица Б. И.</text><text class="r" x="10" y="23">R:10</text><text class="r" x="10" y="33">R:8</text><text class="s" x="66" y="30">0:2</text><rect class="db" x="93" y="17" width="23" height="16"/><text class="dn" x="104.5" y="29">46</text><text class="b" x="10" y="43">Пигида С. А.</text><rect class="pl" x="107" y="-1" width="22" height="17"/><text class="pt" x="118" y="12">16</text><rect class="pl" x="107" y="35" width="22" height="17"/><text class="pt" x="118" y="48">15</text></g>
<g id="m42" transform="translate(747.5,1556.5)"><rect class="sd" x="-30" y="5" width="27" height="14"/><text class="sn" x="-16.5" y="16">-39</text><rect class="sd" x="-30" y="33" width="27" height="14"/><text class="sn" x="-16.5" y="44">-40</text><rect class="mb" width="118" height="49"/><text x="10" y="14">Лебедько М. И.</text><text class="r" x="10" y="23">R:10</text><text class="r" x="10" y="33">R:10</text><text class="s" x="66" y="30">0:2</text><rect class="db" x="93" y="17" width="23" height="16"/><text class="dn" x="104.5" y="29">42</text><text class="b" x="10" y="43">Гудилов М. Н.</text><rect class="pl" x="107" y="-1" width="22" height="17"/><text class="pt" x="118" y="12">12</text><rect class="pl" x="107" y="35" width="22" height="17"/><text class="pt" x="118" y="48">11</text></g>
</svg>
